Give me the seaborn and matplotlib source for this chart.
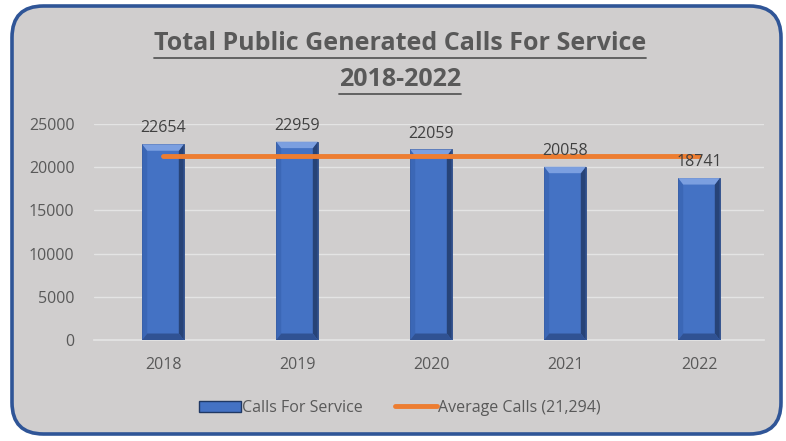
import matplotlib
matplotlib.use("Agg")
import matplotlib.pyplot as plt
from matplotlib.patches import FancyBboxPatch, Patch, Polygon
from matplotlib.lines import Line2D
from matplotlib import font_manager
import seaborn as sns
import pandas as pd

years = ["2018", "2019", "2020", "2021", "2022"]
calls = [22654, 22959, 22059, 20058, 18741]
average_calls = 21294
y_ticks = [0, 5000, 10000, 15000, 20000, 25000]

title_lines = ["Total Public Generated Calls For Service", "2018-2022"]
bar_label = "Calls For Service"
avg_label = "Average Calls (21,294)"

sns.set_theme(style="white")
names = {f.name for f in font_manager.fontManager.ttflist}
base = "Liberation Sans Narrow" if "Liberation Sans Narrow" in names else "Open Sans"
plt.rcParams["font.family"] = [base, "DejaVu Sans"]

panel = "#D0CECE"
text_grey = "#595959"
bar_blue = "#4472C4"

fig = plt.figure(figsize=(7.86, 4.41), dpi=100)
fig.patch.set_facecolor("white")

frame = FancyBboxPatch((12 / 786, 7 / 441), 769 / 786, 428 / 441,
                       boxstyle="round,pad=0,rounding_size=0.04",
                       transform=fig.transFigure, facecolor=panel,
                       edgecolor="#2F5597", linewidth=2.6, zorder=-10,
                       mutation_aspect=786 / 441)
fig.patches.append(frame)

ax = fig.add_axes([94 / 786, (441 - 340) / 441, 670 / 786, 216 / 441])
ax.set_facecolor(panel)
ax.patch.set_alpha(0)

df = pd.DataFrame({"year": years, "calls": calls})
sns.barplot(data=df, x="year", y="calls", color=bar_blue, width=0.31,
            saturation=1, edgecolor="#2A4A86", linewidth=0.6, ax=ax, zorder=3)

# bevel shading on each bar
for p in list(ax.patches):
    x0, w, h = p.get_x(), p.get_width(), p.get_height()
    b = w * 0.12
    bh = 750
    ax.add_patch(Polygon([(x0 + w - b, bh), (x0 + w, 0), (x0 + w, h), (x0 + w - b, h - bh)],
                         closed=True, facecolor="#1C2F57", alpha=0.7, lw=0, zorder=4))
    ax.add_patch(Polygon([(x0, 0), (x0 + b, bh), (x0 + b, h - bh), (x0, h)],
                         closed=True, facecolor="#3B66B5", alpha=0.9, lw=0, zorder=4))
    ax.add_patch(Polygon([(x0, h), (x0 + w, h), (x0 + w - b, h - bh), (x0 + b, h - bh)],
                         closed=True, facecolor="#7FA2E2", alpha=0.95, lw=0, zorder=4))
    ax.add_patch(Polygon([(x0, 0), (x0 + w, 0), (x0 + w - b, bh), (x0 + b, bh)],
                         closed=True, facecolor="#2E4F8E", alpha=0.9, lw=0, zorder=4))

for i, v in enumerate(calls):
    ax.text(i, v + 900, f"{v}", ha="center", va="bottom", fontsize=11.5,
            color="#404040", zorder=6)

ax.plot([0, len(years) - 1], [average_calls, average_calls], color="#ED7D31",
        linewidth=3.5, solid_capstyle="round", zorder=5)

ax.set_xlim(-0.515, 4.485)
ax.set_ylim(0, 25000)
ax.set_yticks(y_ticks)
ax.set_yticklabels([str(t) for t in y_ticks])
ax.grid(axis="y", color="#E4E4E4", linewidth=1.0, zorder=0)
ax.set_axisbelow(True)
for s in ["top", "right", "left"]:
    ax.spines[s].set_visible(False)
ax.spines["bottom"].set_color("#E4E4E4")
ax.set_xlabel("")
ax.set_ylabel("")
ax.tick_params(axis="both", length=0, labelsize=11.5, labelcolor=text_grey)
ax.tick_params(axis="x", pad=12)
ax.tick_params(axis="y", pad=14)

# underlined two-line title
fig.canvas.draw()
r = fig.canvas.get_renderer()
for s, yc in zip(title_lines, [1 - 44 / 441, 1 - 80 / 441]):
    tt = fig.text(400 / 786, yc, s, ha="center", va="center", fontsize=18,
                  fontweight="bold", color=text_grey)
    bb = tt.get_window_extent(renderer=r).transformed(fig.transFigure.inverted())
    fig.add_artist(Line2D([bb.x0, bb.x1], [bb.y0 - 0.004, bb.y0 - 0.004],
                          transform=fig.transFigure, color=text_grey, lw=1.3))

handles = [Patch(facecolor=bar_blue, edgecolor="#1F3864"),
           Line2D([0], [0], color="#ED7D31", lw=3.5)]
fig.legend(handles, [bar_label, avg_label], loc="center",
           bbox_to_anchor=(400 / 786, 1 - 408 / 441), ncol=2, frameon=False,
           fontsize=11.5, labelcolor=text_grey, handlelength=2.6,
           handletextpad=0.1, columnspacing=2.0)

fig.savefig("out.png", dpi=100, facecolor="white")
